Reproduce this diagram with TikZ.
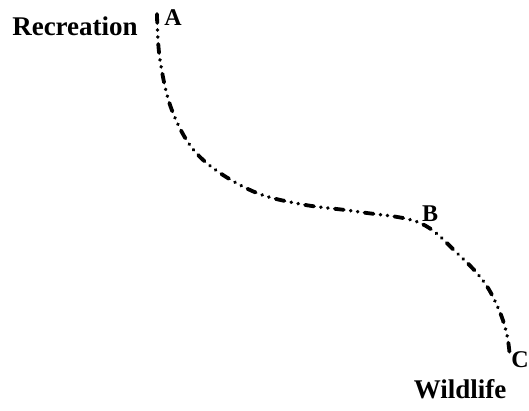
\documentclass[tikz,border=0pt]{standalone}
\usepackage{fontspec}
\setmainfont{Liberation Serif}
\begin{document}
\begin{tikzpicture}[x=1pt,y=-1pt,
  lbl/.style={font=\bfseries\fontsize{27}{29}\selectfont, inner sep=0pt},
  pt/.style={font=\bfseries\fontsize{24}{26}\selectfont, inner sep=0pt},
  curveline/.style={line width=3.8pt, line cap=round,
    dash pattern=on 9pt off 7pt on 0.01pt off 7pt on 0.01pt off 7pt}]
\useasboundingbox (0,0) rectangle (529,411);
\node[lbl, anchor=base] (rec) at (75,36) {Recreation};
\node[lbl, anchor=base] (wild) at (460,398) {Wildlife};
\node[pt, anchor=base] (A) at (173,26) {A};
\node[pt, anchor=base] (B) at (430,222) {B};
\node[pt, anchor=base] (C) at (520,367) {C};
\coordinate (a) at (157,14);
\coordinate (b) at (420,223);
\coordinate (c) at (510,358);
\draw[curveline] plot[smooth, tension=0.6] coordinates {(a) (160,60) (173,113) (200,157) (250,190) (300,204) (360,212) (b) (458,254) (484,282) (499,310) (507,335) (c)};
\end{tikzpicture}
\end{document}
